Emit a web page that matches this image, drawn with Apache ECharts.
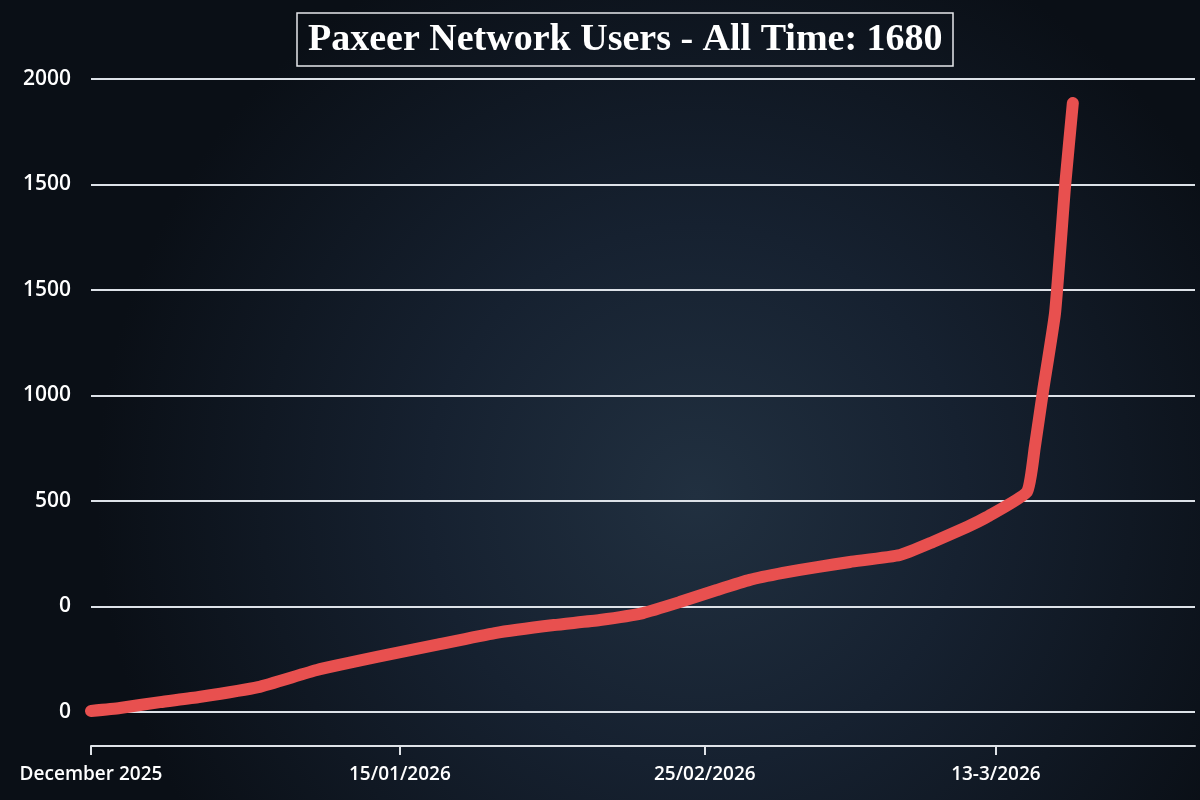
<!DOCTYPE html>
<html>
<head>
<meta charset="utf-8">
<script src="https://cdn.jsdelivr.net/npm/echarts@6/dist/echarts.min.js"></script>
<style>
html,body{margin:0;padding:0;background:#0d131b;}
#c{width:1200px;height:800px;}
</style>
</head>
<body>
<div id="c"></div>
<script>
// ---- data ----
const titleText = "Paxeer Network Users - All Time: 1680";
const xTickLabels = ["December 2025", "15/01/2026", "25/02/2026", "13-3/2026"];
const xTickPositions = [0, 1.024, 2.035, 3];
const yTickLabels = ["0", "0", "500", "1000", "1500", "1500", "2000"];
const xValues = [0, 0.096, 0.229, 0.358, 0.554, 0.749, 0.948, 1.144, 1.339, 1.535, 1.687, 1.830, 1.952, 2.075, 2.184, 2.294, 2.407, 2.516, 2.682, 2.791, 2.904, 2.970, 3.103, 3.129, 3.156, 3.196, 3.229, 3.255];
const yValues = [5, 19, 47, 71, 118, 199, 261, 318, 374, 412, 436, 469, 521, 578, 626, 659, 687, 711, 744, 806, 877, 924, 1043, 1256, 1520, 1891, 2488, 2886];

const points = xValues.map((x, i) => [x, yValues[i]]);
const xLabelMap = {};
xTickPositions.forEach((p, i) => { xLabelMap[p] = xTickLabels[i]; });

const chart = echarts.init(document.getElementById('c'));
chart.setOption({
  backgroundColor: {
    type: 'radial', x: 0.58, y: 0.62, r: 0.75,
    colorStops: [
      {offset: 0, color: '#213040'},
      {offset: 0.45, color: '#162130'},
      {offset: 1, color: '#0a0f16'}
    ]
  },
  animation: false,
  title: {
    text: titleText,
    left: 297,
    top: 13,
    padding: [8, 11, 7, 11],
    borderColor: '#e6e8ec',
    borderWidth: 1.5,
    textStyle: {
      fontFamily: 'Liberation Serif',
      fontWeight: 'bold',
      fontSize: 38,
      color: '#ffffff'
    }
  },
  grid: {left: 91, right: 5, top: 79, bottom: 88},
  xAxis: {
    type: 'value',
    min: 0, max: 3.66,
    offset: 34,
    axisLine: {show: true, onZero: false, lineStyle: {color: '#dfe3e8', width: 2}},
    axisTick: {show: true, customValues: xTickPositions, length: 9, lineStyle: {color: '#dfe3e8', width: 2}},
    axisLabel: {
      customValues: xTickPositions,
      formatter: v => xLabelMap[v] !== undefined ? xLabelMap[v] : '',
      color: '#ffffff',
      fontFamily: 'Open Sans',
      fontWeight: 600,
      fontSize: 19,
      margin: 19
    },
    splitLine: {show: false}
  },
  yAxis: {
    type: 'value',
    min: 0, max: 3000, interval: 500,
    axisLine: {show: false},
    axisTick: {show: false},
    axisLabel: {
      formatter: v => yTickLabels[Math.round(v / 500)],
      color: '#ffffff',
      fontFamily: 'Open Sans',
      fontWeight: 600,
      fontSize: 21,
      margin: 20
    },
    splitLine: {show: true, lineStyle: {color: '#dde2e8', width: 2}}
  },
  series: [{
    type: 'line',
    data: points,
    showSymbol: false,
    smooth: 0.15,
    lineStyle: {color: '#e8504f', width: 12, cap: 'round', join: 'round'}
  }]
});
</script>
</body>
</html>
